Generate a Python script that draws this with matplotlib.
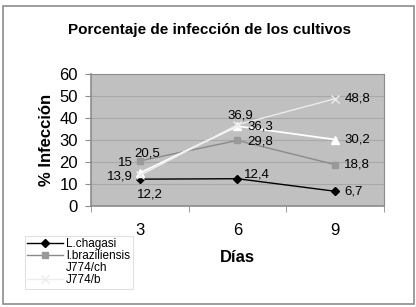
import matplotlib
matplotlib.use("Agg")
import matplotlib.pyplot as plt
from matplotlib.patches import Rectangle

plt.rcParams['font.family'] = ['Liberation Sans', 'DejaVu Sans']

days = ["3", "6", "9"]
chagasi = [12.2, 12.4, 6.7]
braziliensis = [20.5, 29.8, 18.8]
j774_ch = [15, 36.3, 30.2]
j774_b = [13.9, 36.9, 48.8]
series_names = ["L.chagasi", "l.braziliensis", "J774/ch", "J774/b"]
yticks = [0, 10, 20, 30, 40, 50, 60]

fig = plt.figure(figsize=(4.16, 3.07), dpi=100)
W, H = 416, 307
fig.patches.append(Rectangle((3 / W, 1 - 304 / H), (414 - 3) / W, (304 - 6) / H,
                             transform=fig.transFigure, fill=False,
                             edgecolor='#8c8c8c', linewidth=1.2))

ax = fig.add_axes([91 / W, 1 - 206 / H, (384 - 91) / W, (206 - 74) / H])
ax.set_facecolor('#c0c0c0')
x = list(range(len(days)))

l1, = ax.plot(x, chagasi, color='black', lw=1, marker='D', ms=4.5,
              mfc='black', mec='black')
l2, = ax.plot(x, braziliensis, color='#8a8a8a', lw=1, marker='s', ms=5,
              mfc='#999999', mec='#999999')
l3, = ax.plot(x, j774_ch, color='white', lw=1.3, marker='^', ms=6,
              mfc='white', mec='white')
l4, = ax.plot(x, j774_b, color='#ececec', lw=1, marker='x', ms=6,
              mec='#ececec', mew=1)

ax.set_xlim(-0.5, 2.5)
ax.set_ylim(0, 60)
ax.set_yticks(yticks)
ax.set_yticklabels([str(v) for v in yticks], fontsize=12)
ax.set_xticks(x)
ax.set_xticklabels(days, fontsize=12)
ax.set_xticks([-0.5, 0.5, 1.5, 2.5], minor=True)
ax.tick_params(axis='x', which='major', length=0, pad=12)
ax.tick_params(axis='x', which='minor', length=4, color='#8c8c8c')
ax.tick_params(axis='y', length=4, color='#8c8c8c', pad=5.5)
ax.yaxis.grid(True, color='#a8a8a8', lw=0.8)
ax.set_axisbelow(True)
for s in ['top', 'right']:
    ax.spines[s].set_color('#8c8c8c')
for s in ['left', 'bottom']:
    ax.spines[s].set_color('#8c8c8c')
    ax.spines[s].set_linewidth(1.2)

def fmt(v):
    return f"{v:g}".replace('.', ',')

fs = 9.5
# day 3 labels
ax.annotate(fmt(chagasi[0]), (0, chagasi[0]), xytext=(-2, -11), textcoords='offset points', ha='left', va='center', fontsize=fs)
ax.annotate(fmt(braziliensis[0]), (0, braziliensis[0]), xytext=(-4, 5), textcoords='offset points', ha='left', va='center', fontsize=fs)
ax.annotate(fmt(j774_ch[0]), (0, j774_ch[0]), xytext=(-5, 7), textcoords='offset points', ha='right', va='center', fontsize=fs)
ax.annotate(fmt(j774_b[0]), (0, j774_b[0]), xytext=(-5, -1), textcoords='offset points', ha='right', va='center', fontsize=fs)
# day 6 labels
ax.annotate(fmt(chagasi[1]), (1, chagasi[1]), xytext=(5, 3), textcoords='offset points', ha='left', va='center', fontsize=fs)
ax.annotate(fmt(braziliensis[1]), (1, braziliensis[1]), xytext=(7, -1), textcoords='offset points', ha='left', va='center', fontsize=fs)
ax.annotate(fmt(j774_ch[1]), (1, j774_ch[1]), xytext=(7, 0), textcoords='offset points', ha='left', va='center', fontsize=fs)
ax.annotate(fmt(j774_b[1]), (1, j774_b[1]), xytext=(-7, 7), textcoords='offset points', ha='left', va='center', fontsize=fs)
# day 9 labels
for ser in [chagasi, braziliensis, j774_ch, j774_b]:
    ax.annotate(fmt(ser[2]), (2, ser[2]), xytext=(6.5, 0), textcoords='offset points', ha='left', va='center', fontsize=fs)

ax.set_ylabel("% Infección", fontsize=12, fontweight='bold', labelpad=4)
fig.text(237 / W, 1 - 257 / H, "Días", ha='center', va='center', fontsize=12, fontweight='bold')
fig.text(209 / W, 1 - 30 / H, "Porcentaje de infección de los cultivos", ha='center', va='center',
         fontsize=11, fontweight='bold')

leg = fig.legend([l1, l2, l3, l4], series_names, loc='upper left',
                 bbox_to_anchor=(25 / W, 1 - 236 / H), fontsize=8.5, frameon=True,
                 fancybox=False, edgecolor='#dadada', borderpad=0.2, labelspacing=0.0,
                 handlelength=3, handletextpad=0.3, borderaxespad=0)
leg.get_frame().set_linewidth(0.8)

fig.savefig("out.png", dpi=100)
